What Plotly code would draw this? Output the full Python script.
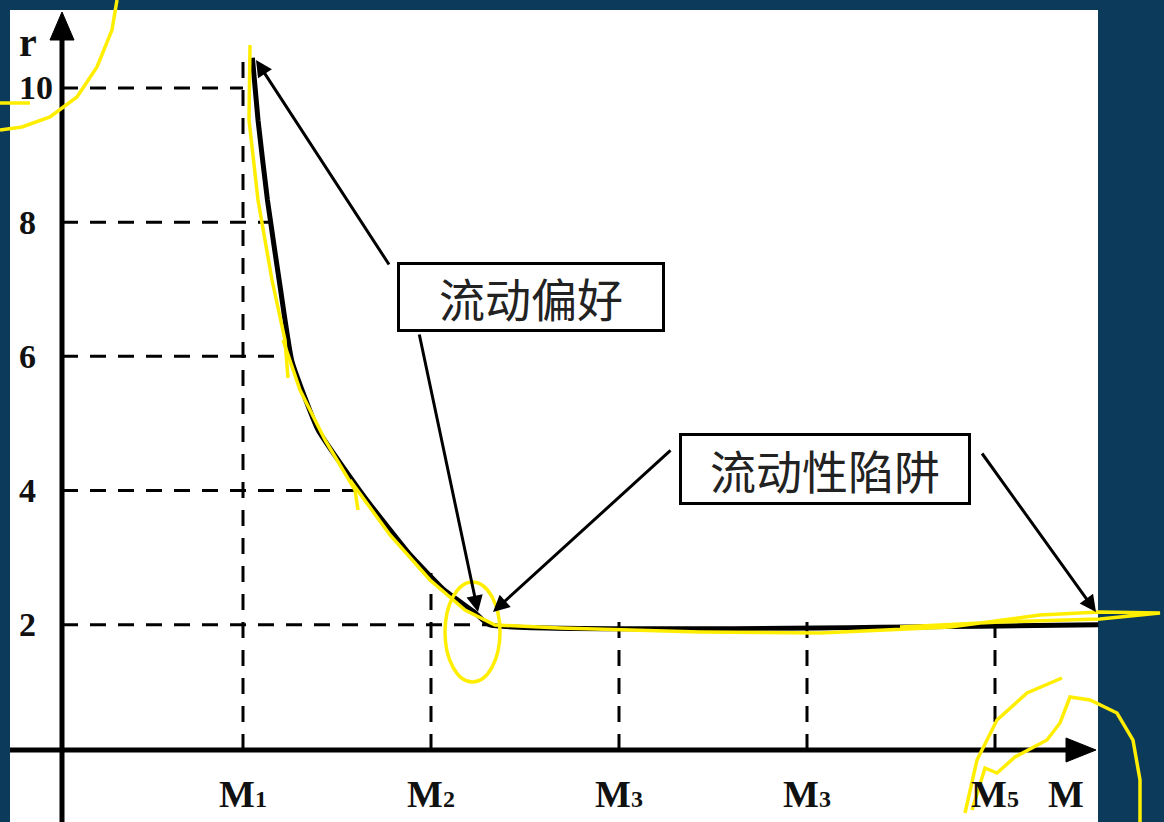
import numpy as np
import plotly.graph_objects as go

# ---------------- data ----------------
curve_M = [1.05, 1.08, 1.13, 1.20, 1.26, 1.40, 1.65, 1.89, 2.07, 2.23, 2.31, 5.55]
curve_r = [10.45, 9.52, 8.33, 6.99, 5.93, 4.90, 3.89, 3.04, 2.52, 2.19, 2.00, 2.00]
r_ticks = [2, 4, 6, 8, 10]
r_tick_labels = ["2", "4", "6", "8", "10"]
M_ticks = [1, 2, 3, 4, 5]
M_tick_names = ["M", "M", "M", "M", "M"]
M_tick_subs = ["1", "2", "3", "3", "5"]
label_pref = "流动偏好"
label_trap = "流动性陷阱"

# ---------------- geometry helpers (pixel -> data) ----------------
W, H = 1164, 822
PXX, X0PX = 188.0, 55.0
PXR, RTOP = 67.1, 11.311


def X(px):
    return (px - X0PX) / PXX


def R(py):
    return RTOP - py / PXR


NAVY = "#0b3a5b"
YEL = "#ffee00"
axis_x = X(62)
axis_r = R(750)

fig = go.Figure()

fig.add_trace(go.Scatter(x=curve_M, y=curve_r, mode="lines",
                         line=dict(color="black", width=5, shape="spline", smoothing=0.4),
                         hoverinfo="skip", showlegend=False))

shapes = []
# white canvas
shapes.append(dict(type="rect", xref="x", yref="y", x0=X(10), x1=X(1098), y0=R(830), y1=R(10),
                   fillcolor="white", line=dict(width=0), layer="below"))

dash = "16px,12px"
cx = np.array(curve_M)
cr = np.array(curve_r)
# horizontal guides
for r in r_ticks:
    if r == max(r_ticks):
        xe = M_ticks[0]
    else:
        xe = float(np.interp(r, cr[:-1][::-1], cx[:-1][::-1]))
    shapes.append(dict(type="line", xref="x", yref="y", x0=axis_x, x1=xe, y0=r, y1=r,
                       line=dict(color="black", width=3, dash=dash)))
# vertical guides
for m in M_ticks:
    rt = float(np.interp(m, cx, cr))
    shapes.append(dict(type="line", xref="x", yref="y", x0=m, x1=m, y0=axis_r, y1=rt + 0.05,
                       line=dict(color="black", width=3, dash=dash)))

# axes
shapes.append(dict(type="line", xref="x", yref="y", x0=axis_x, x1=axis_x, y0=R(830), y1=R(36),
                   line=dict(color="black", width=5)))
shapes.append(dict(type="line", xref="x", yref="y", x0=X(10), x1=X(1070), y0=axis_r, y1=axis_r,
                   line=dict(color="black", width=5)))
# arrowheads
shapes.append(dict(type="path", xref="x", yref="y",
                   path=f"M {X(62)},{R(12)} L {X(50)},{R(40)} L {X(74)},{R(40)} Z",
                   fillcolor="black", line=dict(color="black", width=1)))
shapes.append(dict(type="path", xref="x", yref="y",
                   path=f"M {X(1096)},{R(750)} L {X(1066)},{R(738)} L {X(1066)},{R(762)} Z",
                   fillcolor="black", line=dict(color="black", width=1)))


def ypath(pts):
    return "M " + " L ".join(f"{X(a)},{R(b)}" for a, b in pts)


# yellow hand-drawn marks
yl = dict(color=YEL, width=3.5)
shapes.append(dict(type="path", xref="x", yref="y", line=yl,
                   path=ypath([(117, 0), (112, 30), (97, 67), (77, 97), (50, 117), (22, 127), (0, 130)])))
shapes.append(dict(type="path", xref="x", yref="y", line=yl,
                   path=ypath([(0, 103), (30, 103)])))
shapes.append(dict(type="path", xref="x", yref="y", line=yl,
                   path=ypath([(250, 45), (249, 120), (258, 200), (272, 280), (285, 340), (288, 378)])))
shapes.append(dict(type="path", xref="x", yref="y", line=yl,
                   path=ypath([(283, 340), (300, 390), (325, 440), (355, 490), (358, 510)])))
shapes.append(dict(type="path", xref="x", yref="y", line=yl,
                   path=ypath([(350, 480), (390, 535), (430, 580), (465, 610), (495, 625),
                               (560, 628), (700, 632), (820, 633), (950, 627), (1040, 615),
                               (1100, 612), (1160, 613), (1100, 619), (1000, 622), (900, 627)])))
shapes.append(dict(type="circle", xref="x", yref="y", line=yl,
                   x0=X(445), x1=X(500), y0=R(682), y1=R(582)))
shapes.append(dict(type="path", xref="x", yref="y", line=yl,
                   path=ypath([(1062, 678), (1027, 693), (997, 720), (977, 760), (965, 813)])))
shapes.append(dict(type="path", xref="x", yref="y", line=yl,
                   path=ypath([(972, 810), (985, 768), (997, 773), (1015, 757), (1047, 740),
                               (1060, 723), (1070, 697), (1090, 700), (1117, 713), (1133, 740),
                               (1140, 780), (1140, 822)])))

annotations = []
tick_font = dict(family="Liberation Serif, Times New Roman, serif", size=34, color="#111")
for r, t in zip(r_ticks, r_tick_labels):
    annotations.append(dict(x=X(17), y=r, xref="x", yref="y", text=f"<b>{t}</b>",
                            showarrow=False, xanchor="left", yanchor="middle", font=tick_font))
annotations.append(dict(x=X(17), y=R(42), xref="x", yref="y", text="<b>r</b>",
                        showarrow=False, xanchor="left", yanchor="middle",
                        font=dict(family="Liberation Serif, serif", size=40, color="#111")))
m_font = dict(family="Liberation Serif, Times New Roman, serif", size=38, color="#111")
for m, n, s in zip(M_ticks, M_tick_names, M_tick_subs):
    txt = f"<b>{n}<span style='font-size:24px'>{s}</span></b>"
    annotations.append(dict(x=m, y=R(794), xref="x", yref="y", text=txt,
                            showarrow=False, xanchor="center", yanchor="middle", font=m_font))
annotations.append(dict(x=X(1066), y=R(794), xref="x", yref="y", text="<b>M</b>",
                        showarrow=False, xanchor="center", yanchor="middle", font=m_font))

cjk = dict(family="Noto Sans CJK SC, sans-serif", size=46, color="#222")
annotations.append(dict(x=X(531), y=R(297), xref="x", yref="y", text=label_pref,
                        showarrow=False, font=cjk, width=262, height=64,
                        bordercolor="black", borderwidth=3, borderpad=0, bgcolor="white"))
annotations.append(dict(x=X(825), y=R(469), xref="x", yref="y", text=label_trap,
                        showarrow=False, font=cjk, width=286, height=66,
                        bordercolor="black", borderwidth=3, borderpad=0, bgcolor="white"))

pointers = [((256, 60), (390, 266)),
            ((478, 612), (419, 333)),
            ((493, 612), (672, 449)),
            ((1096, 612), (981, 452))]
for (tx, ty), (sx, sy) in pointers:
    annotations.append(dict(x=X(tx), y=R(ty), ax=X(sx), ay=R(sy), xref="x", yref="y",
                            axref="x", ayref="y", text="", showarrow=True,
                            arrowhead=2, arrowsize=1.1, arrowwidth=3, arrowcolor="black",
                            standoff=0, startstandoff=0))

fig.update_layout(
    width=W, height=H, margin=dict(l=0, r=0, t=0, b=0),
    paper_bgcolor=NAVY, plot_bgcolor=NAVY,
    xaxis=dict(range=[X(0), X(W)], visible=False, fixedrange=True),
    yaxis=dict(range=[R(H), R(0)], visible=False, fixedrange=True),
    shapes=shapes, annotations=annotations, showlegend=False,
)

fig.write_html("out.html", config={"displayModeBar": False},
               post_script="document.body.style.margin='0';document.body.style.overflow='hidden';")
